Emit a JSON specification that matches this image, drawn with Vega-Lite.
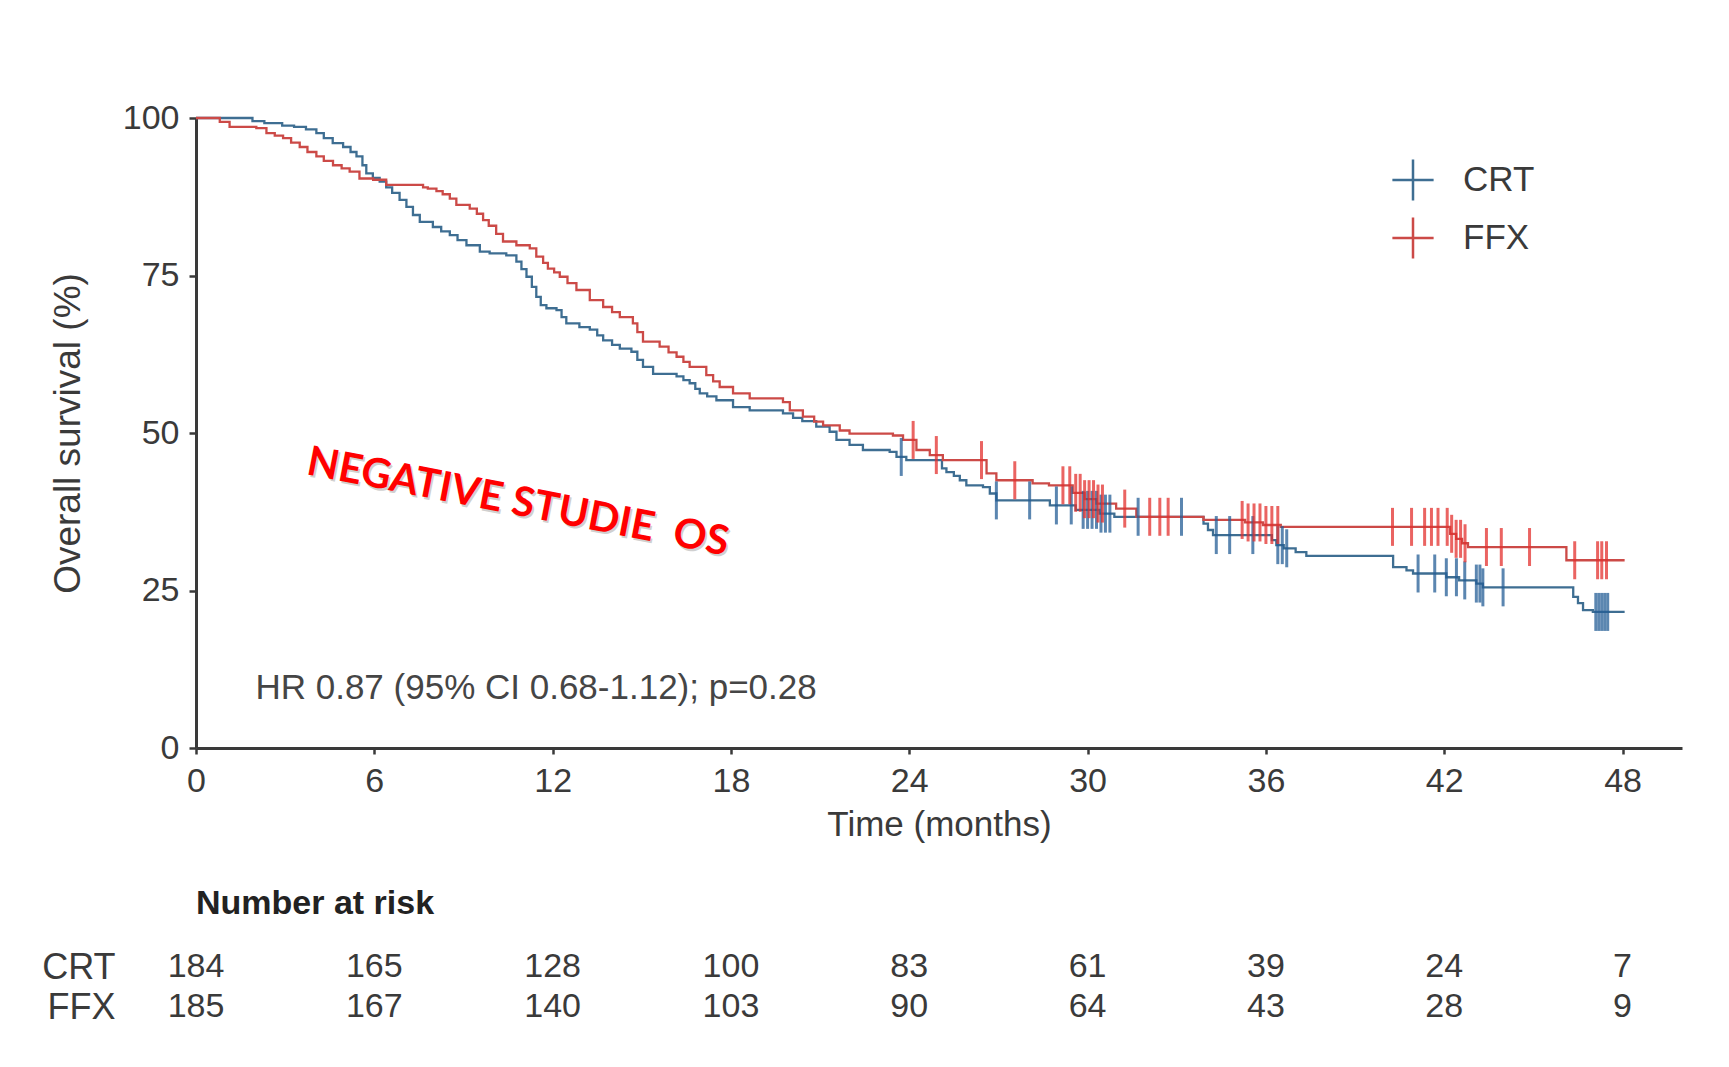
{
  "$schema": "https://vega.github.io/schema/vega-lite/v6.json",
  "background": "white",
  "padding": {"left": 41, "top": 101, "right": 10, "bottom": 10},
  "spacing": 45,
  "config": {
    "font": "Liberation Sans",
    "view": {"stroke": null},
    "axis": {
      "grid": false,
      "domainColor": "#3a3a3a",
      "domainWidth": 3,
      "tickColor": "#3a3a3a",
      "tickWidth": 2.5,
      "labelColor": "#3a3a3a",
      "titleColor": "#3a3a3a",
      "labelFontSize": 34,
      "titleFontSize": 35,
      "titleFontWeight": "normal",
      "labelFlush": false
    }
  },
  "datasets": {
    "curves": [
      {"arm": "CRT", "month": 0, "survival": 100},
      {"arm": "CRT", "month": 1.9, "survival": 99.5},
      {"arm": "CRT", "month": 2.3, "survival": 99.2},
      {"arm": "CRT", "month": 2.9, "survival": 98.8},
      {"arm": "CRT", "month": 3.3, "survival": 98.6},
      {"arm": "CRT", "month": 3.7, "survival": 98.2},
      {"arm": "CRT", "month": 4.05, "survival": 97.6},
      {"arm": "CRT", "month": 4.3, "survival": 96.8},
      {"arm": "CRT", "month": 4.6, "survival": 96.0},
      {"arm": "CRT", "month": 4.95, "survival": 95.4},
      {"arm": "CRT", "month": 5.2, "survival": 94.6},
      {"arm": "CRT", "month": 5.4, "survival": 93.9},
      {"arm": "CRT", "month": 5.6, "survival": 92.5},
      {"arm": "CRT", "month": 5.73, "survival": 91.2},
      {"arm": "CRT", "month": 5.95, "survival": 90.5},
      {"arm": "CRT", "month": 6.18, "survival": 89.9},
      {"arm": "CRT", "month": 6.4, "survival": 89.0},
      {"arm": "CRT", "month": 6.6, "survival": 88.1},
      {"arm": "CRT", "month": 6.85, "survival": 87.0},
      {"arm": "CRT", "month": 7.08, "survival": 85.9},
      {"arm": "CRT", "month": 7.3, "survival": 84.6},
      {"arm": "CRT", "month": 7.53, "survival": 83.5},
      {"arm": "CRT", "month": 7.97, "survival": 82.7},
      {"arm": "CRT", "month": 8.25, "survival": 82.0},
      {"arm": "CRT", "month": 8.54, "survival": 81.4},
      {"arm": "CRT", "month": 8.8, "survival": 80.6},
      {"arm": "CRT", "month": 9.1, "survival": 79.8},
      {"arm": "CRT", "month": 9.55, "survival": 78.8},
      {"arm": "CRT", "month": 9.88, "survival": 78.5},
      {"arm": "CRT", "month": 10.44, "survival": 78.2},
      {"arm": "CRT", "month": 10.78, "survival": 77.2},
      {"arm": "CRT", "month": 10.95, "survival": 76.0},
      {"arm": "CRT", "month": 11.12, "survival": 74.8},
      {"arm": "CRT", "month": 11.3, "survival": 73.2},
      {"arm": "CRT", "month": 11.45, "survival": 71.6},
      {"arm": "CRT", "month": 11.6, "survival": 70.3},
      {"arm": "CRT", "month": 11.79, "survival": 69.8},
      {"arm": "CRT", "month": 12.13, "survival": 69.5},
      {"arm": "CRT", "month": 12.3, "survival": 68.4},
      {"arm": "CRT", "month": 12.46, "survival": 67.4},
      {"arm": "CRT", "month": 12.9, "survival": 66.8},
      {"arm": "CRT", "month": 13.25, "survival": 66.4},
      {"arm": "CRT", "month": 13.5, "survival": 65.5},
      {"arm": "CRT", "month": 13.7, "survival": 64.7},
      {"arm": "CRT", "month": 14.0, "survival": 64.0},
      {"arm": "CRT", "month": 14.26, "survival": 63.4},
      {"arm": "CRT", "month": 14.65, "survival": 62.9},
      {"arm": "CRT", "month": 14.85, "survival": 61.6},
      {"arm": "CRT", "month": 15.04, "survival": 60.5},
      {"arm": "CRT", "month": 15.38, "survival": 59.4},
      {"arm": "CRT", "month": 16.17, "survival": 59.0},
      {"arm": "CRT", "month": 16.4, "survival": 58.4},
      {"arm": "CRT", "month": 16.61, "survival": 57.9},
      {"arm": "CRT", "month": 16.8, "survival": 57.0},
      {"arm": "CRT", "month": 16.95, "survival": 56.3},
      {"arm": "CRT", "month": 17.2, "survival": 55.8},
      {"arm": "CRT", "month": 17.51, "survival": 55.2},
      {"arm": "CRT", "month": 18.07, "survival": 54.1},
      {"arm": "CRT", "month": 18.63, "survival": 53.6},
      {"arm": "CRT", "month": 19.75, "survival": 53.1},
      {"arm": "CRT", "month": 20.09, "survival": 52.4},
      {"arm": "CRT", "month": 20.4, "survival": 51.9},
      {"arm": "CRT", "month": 20.87, "survival": 51.0},
      {"arm": "CRT", "month": 21.32, "survival": 50.2},
      {"arm": "CRT", "month": 21.55, "survival": 48.9},
      {"arm": "CRT", "month": 21.99, "survival": 48.1},
      {"arm": "CRT", "month": 22.44, "survival": 47.3},
      {"arm": "CRT", "month": 23.34, "survival": 47.0},
      {"arm": "CRT", "month": 23.57, "survival": 46.2},
      {"arm": "CRT", "month": 23.9, "survival": 45.7},
      {"arm": "CRT", "month": 25.1, "survival": 44.4},
      {"arm": "CRT", "month": 25.25, "survival": 43.8},
      {"arm": "CRT", "month": 25.5, "survival": 43.2},
      {"arm": "CRT", "month": 25.7, "survival": 42.5},
      {"arm": "CRT", "month": 25.92, "survival": 41.7},
      {"arm": "CRT", "month": 26.48, "survival": 41.4},
      {"arm": "CRT", "month": 26.71, "survival": 40.4},
      {"arm": "CRT", "month": 26.93, "survival": 39.3},
      {"arm": "CRT", "month": 28.73, "survival": 38.5},
      {"arm": "CRT", "month": 29.6, "survival": 37.8},
      {"arm": "CRT", "month": 30.4, "survival": 37.2},
      {"arm": "CRT", "month": 30.9, "survival": 36.7},
      {"arm": "CRT", "month": 33.9, "survival": 35.6},
      {"arm": "CRT", "month": 34.05, "survival": 34.6},
      {"arm": "CRT", "month": 34.22, "survival": 33.8},
      {"arm": "CRT", "month": 36.2, "survival": 33.0},
      {"arm": "CRT", "month": 36.35, "survival": 32.2},
      {"arm": "CRT", "month": 36.6, "survival": 31.7},
      {"arm": "CRT", "month": 37.0, "survival": 31.1},
      {"arm": "CRT", "month": 37.36, "survival": 30.5},
      {"arm": "CRT", "month": 40.28, "survival": 28.7},
      {"arm": "CRT", "month": 40.73, "survival": 28.2},
      {"arm": "CRT", "month": 40.95, "survival": 27.7},
      {"arm": "CRT", "month": 42.07, "survival": 27.1},
      {"arm": "CRT", "month": 42.5, "survival": 26.6},
      {"arm": "CRT", "month": 43.08, "survival": 26.1},
      {"arm": "CRT", "month": 43.3, "survival": 25.5},
      {"arm": "CRT", "month": 46.34, "survival": 24.0},
      {"arm": "CRT", "month": 46.5, "survival": 23.0},
      {"arm": "CRT", "month": 46.67, "survival": 21.9},
      {"arm": "CRT", "month": 47.0, "survival": 21.6},
      {"arm": "CRT", "month": 48.07, "survival": 21.6},
      {"arm": "FFX", "month": 0, "survival": 100},
      {"arm": "FFX", "month": 0.8, "survival": 99.4},
      {"arm": "FFX", "month": 1.13, "survival": 98.6},
      {"arm": "FFX", "month": 2.03, "survival": 98.4},
      {"arm": "FFX", "month": 2.37, "survival": 97.6},
      {"arm": "FFX", "month": 2.65, "survival": 97.2},
      {"arm": "FFX", "month": 2.93, "survival": 96.8},
      {"arm": "FFX", "month": 3.2, "survival": 96.1},
      {"arm": "FFX", "month": 3.49, "survival": 95.4},
      {"arm": "FFX", "month": 3.75, "survival": 94.6},
      {"arm": "FFX", "month": 4.05, "survival": 93.9},
      {"arm": "FFX", "month": 4.3, "survival": 93.2},
      {"arm": "FFX", "month": 4.61, "survival": 92.5},
      {"arm": "FFX", "month": 4.9, "survival": 92.0},
      {"arm": "FFX", "month": 5.17, "survival": 91.5},
      {"arm": "FFX", "month": 5.5, "survival": 90.4},
      {"arm": "FFX", "month": 5.96, "survival": 90.2},
      {"arm": "FFX", "month": 6.4, "survival": 89.4},
      {"arm": "FFX", "month": 7.64, "survival": 89.0},
      {"arm": "FFX", "month": 7.8, "survival": 88.8},
      {"arm": "FFX", "month": 8.09, "survival": 88.4},
      {"arm": "FFX", "month": 8.3, "survival": 87.9},
      {"arm": "FFX", "month": 8.54, "survival": 87.2},
      {"arm": "FFX", "month": 8.76, "survival": 86.2},
      {"arm": "FFX", "month": 9.21, "survival": 85.6},
      {"arm": "FFX", "month": 9.45, "survival": 84.8},
      {"arm": "FFX", "month": 9.66, "survival": 83.8},
      {"arm": "FFX", "month": 9.85, "survival": 82.9},
      {"arm": "FFX", "month": 10.1, "survival": 81.6},
      {"arm": "FFX", "month": 10.33, "survival": 80.4},
      {"arm": "FFX", "month": 10.78, "survival": 79.8},
      {"arm": "FFX", "month": 11.23, "survival": 79.3},
      {"arm": "FFX", "month": 11.45, "survival": 78.0},
      {"arm": "FFX", "month": 11.68, "survival": 77.0},
      {"arm": "FFX", "month": 11.84, "survival": 76.1},
      {"arm": "FFX", "month": 12.05, "survival": 75.5},
      {"arm": "FFX", "month": 12.24, "survival": 74.8},
      {"arm": "FFX", "month": 12.5, "survival": 73.8},
      {"arm": "FFX", "month": 12.8, "survival": 72.7},
      {"arm": "FFX", "month": 13.25, "survival": 71.1},
      {"arm": "FFX", "month": 13.7, "survival": 70.0},
      {"arm": "FFX", "month": 14.0, "survival": 69.2},
      {"arm": "FFX", "month": 14.26, "survival": 68.4},
      {"arm": "FFX", "month": 14.7, "survival": 67.4},
      {"arm": "FFX", "month": 14.85, "survival": 66.0},
      {"arm": "FFX", "month": 15.04, "survival": 64.5},
      {"arm": "FFX", "month": 15.6, "survival": 63.7},
      {"arm": "FFX", "month": 15.9, "survival": 62.8},
      {"arm": "FFX", "month": 16.17, "survival": 62.1},
      {"arm": "FFX", "month": 16.4, "survival": 61.3},
      {"arm": "FFX", "month": 16.61, "survival": 60.5},
      {"arm": "FFX", "month": 17.17, "survival": 59.2},
      {"arm": "FFX", "month": 17.4, "survival": 58.2},
      {"arm": "FFX", "month": 17.62, "survival": 57.3},
      {"arm": "FFX", "month": 18.07, "survival": 56.3},
      {"arm": "FFX", "month": 18.63, "survival": 55.5},
      {"arm": "FFX", "month": 19.75, "survival": 54.9},
      {"arm": "FFX", "month": 19.98, "survival": 53.6},
      {"arm": "FFX", "month": 20.42, "survival": 52.6},
      {"arm": "FFX", "month": 20.8, "survival": 51.8},
      {"arm": "FFX", "month": 21.1, "survival": 51.2},
      {"arm": "FFX", "month": 21.66, "survival": 50.4},
      {"arm": "FFX", "month": 21.99, "survival": 49.9},
      {"arm": "FFX", "month": 23.45, "survival": 49.6},
      {"arm": "FFX", "month": 23.79, "survival": 48.9},
      {"arm": "FFX", "month": 24.24, "survival": 47.3},
      {"arm": "FFX", "month": 24.69, "survival": 46.5},
      {"arm": "FFX", "month": 25.13, "survival": 45.7},
      {"arm": "FFX", "month": 26.6, "survival": 43.6},
      {"arm": "FFX", "month": 26.93, "survival": 42.5},
      {"arm": "FFX", "month": 28.15, "survival": 42.0},
      {"arm": "FFX", "month": 28.7, "survival": 41.7},
      {"arm": "FFX", "month": 29.5, "survival": 40.5},
      {"arm": "FFX", "month": 29.9, "survival": 39.5},
      {"arm": "FFX", "month": 30.3, "survival": 38.8},
      {"arm": "FFX", "month": 30.96, "survival": 38.0},
      {"arm": "FFX", "month": 31.64, "survival": 36.7},
      {"arm": "FFX", "month": 33.9, "survival": 36.2},
      {"arm": "FFX", "month": 35.3, "survival": 35.8},
      {"arm": "FFX", "month": 35.9, "survival": 35.4},
      {"arm": "FFX", "month": 36.5, "survival": 35.1},
      {"arm": "FFX", "month": 42.2, "survival": 34.0},
      {"arm": "FFX", "month": 42.4, "survival": 33.2},
      {"arm": "FFX", "month": 42.6, "survival": 32.5},
      {"arm": "FFX", "month": 42.8, "survival": 31.9},
      {"arm": "FFX", "month": 46.11, "survival": 29.8},
      {"arm": "FFX", "month": 48.07, "survival": 29.8}
    ],
    "censored": [
      {"arm": "CRT", "month": 23.73, "survival": 46.2},
      {"arm": "CRT", "month": 26.93, "survival": 39.3},
      {"arm": "CRT", "month": 28.05, "survival": 39.3},
      {"arm": "CRT", "month": 28.95, "survival": 38.5},
      {"arm": "CRT", "month": 29.45, "survival": 38.5},
      {"arm": "CRT", "month": 29.85, "survival": 37.8},
      {"arm": "CRT", "month": 30.0, "survival": 37.8},
      {"arm": "CRT", "month": 30.15, "survival": 37.8},
      {"arm": "CRT", "month": 30.3, "survival": 37.8},
      {"arm": "CRT", "month": 30.45, "survival": 37.2},
      {"arm": "CRT", "month": 30.6, "survival": 37.2},
      {"arm": "CRT", "month": 30.75, "survival": 37.2},
      {"arm": "CRT", "month": 31.7, "survival": 36.7},
      {"arm": "CRT", "month": 33.16, "survival": 36.7},
      {"arm": "CRT", "month": 34.33, "survival": 33.8},
      {"arm": "CRT", "month": 34.78, "survival": 33.8},
      {"arm": "CRT", "month": 35.56, "survival": 33.8},
      {"arm": "CRT", "month": 36.4, "survival": 32.2},
      {"arm": "CRT", "month": 36.55, "survival": 32.2},
      {"arm": "CRT", "month": 36.7, "survival": 31.7},
      {"arm": "CRT", "month": 41.12, "survival": 27.7},
      {"arm": "CRT", "month": 41.68, "survival": 27.7},
      {"arm": "CRT", "month": 42.07, "survival": 27.1},
      {"arm": "CRT", "month": 42.41, "survival": 27.1},
      {"arm": "CRT", "month": 42.69, "survival": 26.6},
      {"arm": "CRT", "month": 43.08, "survival": 26.1},
      {"arm": "CRT", "month": 43.2, "survival": 26.1},
      {"arm": "CRT", "month": 43.3, "survival": 25.5},
      {"arm": "CRT", "month": 43.98, "survival": 25.5},
      {"arm": "CRT", "month": 47.1, "survival": 21.6},
      {"arm": "CRT", "month": 47.2, "survival": 21.6},
      {"arm": "CRT", "month": 47.3, "survival": 21.6},
      {"arm": "CRT", "month": 47.4, "survival": 21.6},
      {"arm": "CRT", "month": 47.5, "survival": 21.6},
      {"arm": "FFX", "month": 24.13, "survival": 48.9},
      {"arm": "FFX", "month": 24.91, "survival": 46.5},
      {"arm": "FFX", "month": 26.43, "survival": 45.7},
      {"arm": "FFX", "month": 27.55, "survival": 42.5},
      {"arm": "FFX", "month": 29.17, "survival": 41.7},
      {"arm": "FFX", "month": 29.4, "survival": 41.7},
      {"arm": "FFX", "month": 29.6, "survival": 40.5},
      {"arm": "FFX", "month": 29.75, "survival": 40.5},
      {"arm": "FFX", "month": 29.9, "survival": 39.5},
      {"arm": "FFX", "month": 30.05, "survival": 39.5},
      {"arm": "FFX", "month": 30.2, "survival": 39.5},
      {"arm": "FFX", "month": 30.35, "survival": 38.8},
      {"arm": "FFX", "month": 30.5, "survival": 38.8},
      {"arm": "FFX", "month": 31.25, "survival": 38.0},
      {"arm": "FFX", "month": 32.09, "survival": 36.7},
      {"arm": "FFX", "month": 32.43, "survival": 36.7},
      {"arm": "FFX", "month": 32.71, "survival": 36.7},
      {"arm": "FFX", "month": 35.2, "survival": 36.2},
      {"arm": "FFX", "month": 35.4, "survival": 35.8},
      {"arm": "FFX", "month": 35.6, "survival": 35.8},
      {"arm": "FFX", "month": 35.8, "survival": 35.8},
      {"arm": "FFX", "month": 36.0, "survival": 35.4},
      {"arm": "FFX", "month": 36.2, "survival": 35.4},
      {"arm": "FFX", "month": 36.4, "survival": 35.4},
      {"arm": "FFX", "month": 40.26, "survival": 35.1},
      {"arm": "FFX", "month": 40.9, "survival": 35.1},
      {"arm": "FFX", "month": 41.34, "survival": 35.1},
      {"arm": "FFX", "month": 41.57, "survival": 35.1},
      {"arm": "FFX", "month": 41.79, "survival": 35.1},
      {"arm": "FFX", "month": 42.1, "survival": 35.1},
      {"arm": "FFX", "month": 42.25, "survival": 34.0},
      {"arm": "FFX", "month": 42.4, "survival": 33.2},
      {"arm": "FFX", "month": 42.55, "survival": 33.2},
      {"arm": "FFX", "month": 42.7, "survival": 32.5},
      {"arm": "FFX", "month": 43.42, "survival": 31.9},
      {"arm": "FFX", "month": 43.92, "survival": 31.9},
      {"arm": "FFX", "month": 44.87, "survival": 31.9},
      {"arm": "FFX", "month": 46.39, "survival": 29.8},
      {"arm": "FFX", "month": 47.16, "survival": 29.8},
      {"arm": "FFX", "month": 47.3, "survival": 29.8},
      {"arm": "FFX", "month": 47.46, "survival": 29.8}
    ],
    "risk": [
      {"arm": "CRT", "month": 0, "n": 184},
      {"arm": "CRT", "month": 6, "n": 165},
      {"arm": "CRT", "month": 12, "n": 128},
      {"arm": "CRT", "month": 18, "n": 100},
      {"arm": "CRT", "month": 24, "n": 83},
      {"arm": "CRT", "month": 30, "n": 61},
      {"arm": "CRT", "month": 36, "n": 39},
      {"arm": "CRT", "month": 42, "n": 24},
      {"arm": "CRT", "month": 48, "n": 7},
      {"arm": "FFX", "month": 0, "n": 185},
      {"arm": "FFX", "month": 6, "n": 167},
      {"arm": "FFX", "month": 12, "n": 140},
      {"arm": "FFX", "month": 18, "n": 103},
      {"arm": "FFX", "month": 24, "n": 90},
      {"arm": "FFX", "month": 30, "n": 64},
      {"arm": "FFX", "month": 36, "n": 43},
      {"arm": "FFX", "month": 42, "n": 28},
      {"arm": "FFX", "month": 48, "n": 9}
    ]
  },
  "vconcat": [
    {
      "width": 1486,
      "height": 630,
      "resolve": {"scale": {"color": "independent"}},
      "layer": [
        {
          "data": {"name": "curves"},
          "mark": {"type": "line", "interpolate": "step-after", "strokeWidth": 2.3},
          "encoding": {
            "x": {
              "field": "month", "type": "quantitative",
              "scale": {"domain": [0, 50], "nice": false},
              "axis": {
                "title": "Time (months)",
                "values": [0, 6, 12, 18, 24, 30, 36, 42, 48],
                "tickSize": 6,
                "labelPadding": 10,
                "titlePadding": 9
              }
            },
            "y": {
              "field": "survival", "type": "quantitative",
              "scale": {"domain": [0, 100], "nice": false},
              "axis": {
                "title": "Overall survival (%)",
                "titleFontSize": 37,
                "values": [0, 25, 50, 75, 100],
                "tickSize": 7,
                "labelPadding": 10,
                "titlePadding": 35
              }
            },
            "color": {
              "field": "arm", "type": "nominal",
              "scale": {"domain": ["CRT", "FFX"], "range": ["#3e6e92", "#cc4a47"]},
              "legend": {
                "title": null,
                "orient": "none",
                "legendX": 1195,
                "legendY": 40,
                "padding": 0,
                "symbolType": "M-1,0H1M0,-1V1",
                "symbolSize": 1700,
                "symbolStrokeWidth": 2.5,
                "labelFontSize": 35,
                "labelColor": "#3a3a3a",
                "labelOffset": 28,
                "rowPadding": 6
              }
            }
          }
        },
        {
          "data": {"name": "censored"},
          "mark": {"type": "tick", "orient": "vertical", "size": 38, "thickness": 3, "opacity": 0.75},
          "encoding": {
            "x": {"field": "month", "type": "quantitative"},
            "y": {"field": "survival", "type": "quantitative"},
            "color": {
              "field": "arm", "type": "nominal",
              "scale": {"domain": ["CRT", "FFX"], "range": ["#245e96", "#e3302e"]},
              "legend": null
            }
          }
        },
        {
          "data": {"values": [{"month": 2.0, "survival": 9.6, "label": "HR 0.87 (95% CI 0.68-1.12); p=0.28"}]},
          "mark": {"type": "text", "align": "left", "baseline": "middle", "fontSize": 35, "color": "#454545"},
          "encoding": {
            "x": {"field": "month", "type": "quantitative"},
            "y": {"field": "survival", "type": "quantitative"},
            "text": {"field": "label"}
          }
        },
        {
          "data": {"values": [{"month": 3.68, "survival": 43.5, "label": "NEGATIVE STUDIE \u00a0OS"}]},
          "mark": {"type": "text", "align": "left", "baseline": "alphabetic", "angle": 11, "font": "Lato", "fontWeight": "bold", "fontSize": 41, "color": "#7a7a7a", "opacity": 0.35, "dx": 2, "dy": 2},
          "encoding": {
            "x": {"field": "month", "type": "quantitative"},
            "y": {"field": "survival", "type": "quantitative"},
            "text": {"field": "label"}
          }
        },
        {
          "data": {"values": [{"month": 3.68, "survival": 43.5, "label": "NEGATIVE STUDIE \u00a0OS"}]},
          "mark": {"type": "text", "align": "left", "baseline": "alphabetic", "angle": 11, "font": "Lato", "fontWeight": "bold", "fontSize": 41, "color": "#ff0000"},
          "encoding": {
            "x": {"field": "month", "type": "quantitative"},
            "y": {"field": "survival", "type": "quantitative"},
            "text": {"field": "label"}
          }
        }
      ]
    },
    {
      "width": 1486,
      "height": 80,
      "title": {"text": "Number at risk", "anchor": "start", "frame": "group", "fontSize": 34, "fontWeight": "bold", "color": "#222222", "offset": 26},
      "data": {"name": "risk"},
      "mark": {"type": "text", "fontSize": 34, "color": "#3a3a3a", "baseline": "middle"},
      "encoding": {
        "x": {"field": "month", "type": "quantitative", "scale": {"domain": [0, 50], "nice": false}, "axis": null},
        "y": {
          "field": "arm", "type": "nominal", "sort": ["CRT", "FFX"],
          "axis": {"title": null, "domain": false, "ticks": false, "labelPadding": 81, "labelFontSize": 36, "labelColor": "#3a3a3a"}
        },
        "text": {"field": "n", "type": "quantitative"}
      }
    }
  ]
}
